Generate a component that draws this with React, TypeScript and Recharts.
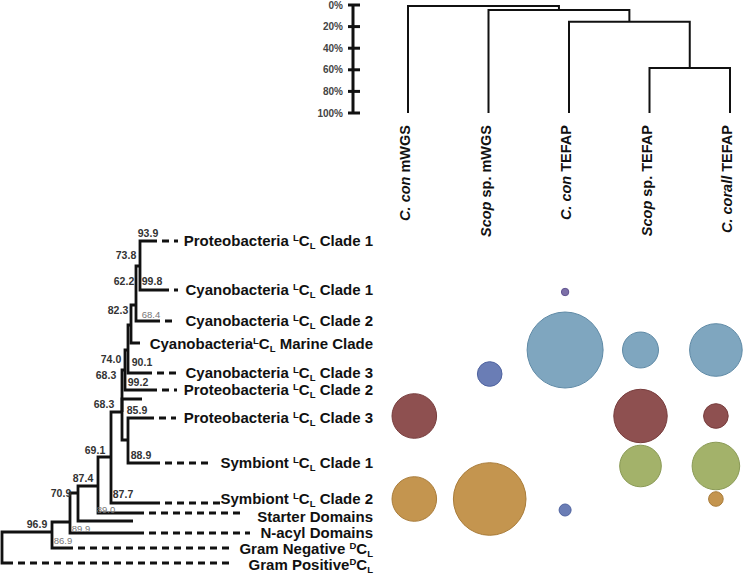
import React from 'react';
import { ScatterChart, Scatter, XAxis, YAxis, ZAxis } from 'recharts';

const W = 743;
const H = 574;
const FONT = '"Liberation Sans", Arial, Helvetica, sans-serif';

// samples: leaves of the top dendrogram and columns of the bubble grid
const sampleNames = [
  ['C. con', ' mWGS'],
  ['Scop', ' sp. mWGS'],
  ['C. con', ' TEFAP'],
  ['Scop', ' sp. TEFAP'],
  ['C. corall', ' TEFAP'],
];

// sample dendrogram merges: [left id, right id, distance %]; ids 5.. are the merges in order
const sampleMerges = [
  [3, 4, 58.3],
  [2, 5, 15.5],
  [1, 6, 4.6],
  [0, 7, 0.9],
];
const scaleTicks = [0, 20, 40, 60, 80, 100];

// phylogeny internal nodes: x = branch depth, y = row where the node hangs on its parent
const treeNodes = [
  { id: 'root', parent: '', x: 0.2, y: 54.5 },
  { id: 'n969', parent: 'root', x: 5.2, y: 53.2 },
  { id: 'n709', parent: 'n969', x: 7.0, y: 52.2 },
  { id: 'n874', parent: 'n709', x: 7.8, y: 49.3 },
  { id: 'n691', parent: 'n874', x: 9.8, y: 48.6 },
  { id: 'n683b', parent: 'n691', x: 11.1, y: 45.7 },
  { id: 'n122', parent: 'n683b', x: 12.2, y: 41.2 },
  { id: 'n859', parent: 'n122', x: 12.8, y: 44.0 },
  { id: 'n683a', parent: 'n122', x: 12.5, y: 37.0 },
  { id: 'n740', parent: 'n683a', x: 12.8, y: 35.0 },
  { id: 'n823', parent: 'n740', x: 13.1, y: 32.5 },
  { id: 'n622', parent: 'n823', x: 13.6, y: 30.5 },
  { id: 'n738', parent: 'n622', x: 14.0, y: 26.6 },
];

// phylogeny leaves: tip = end of solid branch, dashTo = end of dashed leader, ly = label row
const treeLeaves = [
  { parent: 'n738', tip: 15.0, y: 24.1, ly: 24.1, dashTo: 17.8, pre: 'Proteobacteria ', sup: 'L', post: ' Clade 1' },
  { parent: 'n738', tip: 16.2, y: 29.0, ly: 29.0, dashTo: 17.8, pre: 'Cyanobacteria ', sup: 'L', post: ' Clade 1' },
  { parent: 'n622', tip: 15.3, y: 32.1, ly: 32.1, dashTo: 17.7, pre: 'Cyanobacteria ', sup: 'L', post: ' Clade 2' },
  { parent: 'n823', tip: 14.0, y: 34.3, ly: 34.4, dashTo: 0, pre: 'Cyanobacteria', sup: 'L', post: ' Marine Clade' },
  { parent: 'n740', tip: 14.5, y: 37.3, ly: 37.3, dashTo: 17.8, pre: 'Cyanobacteria ', sup: 'L', post: ' Clade 3' },
  { parent: 'n683a', tip: 15.0, y: 39.0, ly: 39.0, dashTo: 17.7, pre: 'Proteobacteria ', sup: 'L', post: ' Clade 2' },
  { parent: 'n122', tip: 14.2, y: 39.9, ly: 39.9, dashTo: 0, pre: '', sup: '', post: '' },
  { parent: 'n859', tip: 14.7, y: 41.8, ly: 41.8, dashTo: 17.6, pre: 'Proteobacteria ', sup: 'L', post: ' Clade 3' },
  { parent: 'n859', tip: 15.3, y: 46.3, ly: 46.3, dashTo: 21.3, pre: 'Symbiont ', sup: 'L', post: ' Clade 1' },
  { parent: 'n683b', tip: 15.3, y: 50.3, ly: 49.9, dashTo: 22.2, pre: 'Symbiont ', sup: 'L', post: ' Clade 2' },
  { parent: 'n691', tip: 13.7, y: 51.3, ly: 51.7, dashTo: 24.0, pre: 'Starter Domains', sup: '', post: '' },
  { parent: 'n874', tip: 13.3, y: 52.1, ly: 52.1, dashTo: 0, pre: '', sup: '', post: '' },
  { parent: 'n709', tip: 13.7, y: 53.3, ly: 53.3, dashTo: 25.0, pre: 'N-acyl Domains', sup: '', post: '' },
  { parent: 'n969', tip: 6.6, y: 54.8, ly: 54.9, dashTo: 23.3, pre: 'Gram Negative ', sup: 'D', post: '' },
  { parent: 'root', tip: 0.6, y: 56.3, ly: 56.5, dashTo: 23.3, pre: 'Gram Positive', sup: 'D', post: '' },
];

// bootstrap support values and where they sit
const supportValues = [
  { x: 14.8, y: 23.3, v: '93.9', faint: false },
  { x: 12.6, y: 25.5, v: '73.8', faint: false },
  { x: 12.4, y: 28.1, v: '62.2', faint: false },
  { x: 15.2, y: 28.1, v: '99.8', faint: false },
  { x: 11.8, y: 31.0, v: '82.3', faint: false },
  { x: 15.1, y: 31.4, v: '68.4', faint: true },
  { x: 11.1, y: 35.9, v: '74.0', faint: false },
  { x: 14.2, y: 36.2, v: '90.1', faint: false },
  { x: 10.6, y: 37.5, v: '68.3', faint: false },
  { x: 13.8, y: 38.2, v: '99.2', faint: false },
  { x: 10.4, y: 40.4, v: '68.3', faint: false },
  { x: 13.7, y: 41.0, v: '85.9', faint: false },
  { x: 14.1, y: 45.5, v: '88.9', faint: false },
  { x: 9.5, y: 45.0, v: '69.1', faint: false },
  { x: 8.3, y: 47.8, v: '87.4', faint: false },
  { x: 12.3, y: 49.4, v: '87.7', faint: false },
  { x: 6.1, y: 49.3, v: '70.9', faint: false },
  { x: 10.6, y: 50.9, v: '89.0', faint: true },
  { x: 3.7, y: 52.4, v: '96.9', faint: false },
  { x: 8.1, y: 52.8, v: '89.9', faint: true },
  { x: 6.3, y: 54.0, v: '86.9', faint: true },
];

// bubble grid: one row per gene clade, values = relative abundance per sample
const bubbleRowNames = ['Cyano 1', 'Cyano marine', 'Cyano 3', 'Proteo 3', 'Symbiont 1', 'Symbiont 2', 'Starter'];
const bubbleRowY = [29.2, 35.0, 37.4, 41.6, 46.6, 49.9, 51.0];
const bubbleValues = [
  [0, 0, 0.95, 0, 0],
  [0, 0, 100, 22.4, 47.9],
  [0, 10.5, 0, 0, 0],
  [34.4, 0, 0, 49.4, 10.5],
  [0, 0, 0, 30, 39.2],
  [34.4, 91.3, 0, 0, 3.7],
  [0, 0, 2.5, 0, 0],
];
const bubbleFill = ['#7d70a8', '#7fa6bf', '#6a7db5', '#8e5050', '#a3b26a', '#c4954f', '#6a7db5'];
const bubbleEdge = ['#605391', '#5f8aa6', '#4f63a0', '#773c3c', '#8a9a55', '#a97c3a', '#4f63a0'];

// layout of the overlay axes
const COL0 = 414.3;
const COL_STEP = 75.4;
const DEN0 = 408;
const DEN_STEP = 80.5;
const AXIS_X = 353;

const nodeById: Record<string, any> = {};
treeNodes.forEach((n) => (nodeById[n.id] = n));

const branchPaths = [
  ...treeNodes
    .filter((n) => n.parent)
    .map((n) => {
      const p = nodeById[n.parent];
      return [{ x: p.x, y: p.y }, { x: p.x, y: n.y }, { x: n.x, y: n.y }];
    }),
  ...treeLeaves.map((l) => {
    const p = nodeById[l.parent];
    return [{ x: p.x, y: p.y }, { x: p.x, y: l.y }, { x: l.tip, y: l.y }];
  }),
];
const dashPaths = treeLeaves.filter((l) => l.dashTo > 0).map((l) => [{ x: l.tip, y: l.y }, { x: l.dashTo, y: l.y }]);
const leafLabels = treeLeaves.filter((l) => l.pre).map((l) => ({ ...l, x: 37.3, y: l.ly }));

// sample dendrogram as polylines
const mergePos: number[] = [0, 1, 2, 3, 4];
const mergeH: number[] = [100, 100, 100, 100, 100];
const dendroPaths = sampleMerges.map(([a, b, h]) => {
  const path = [
    { x: mergePos[a], h: mergeH[a] },
    { x: mergePos[a], h },
    { x: mergePos[b], h },
    { x: mergePos[b], h: mergeH[b] },
  ];
  mergePos.push((mergePos[a] + mergePos[b]) / 2);
  mergeH.push(h);
  return path;
});

const EmptyDot = () => <g />;

const TreeLabel = (props: any) => {
  const { cx, cy, payload } = props;
  return (
    <text x={cx} y={cy + 5} textAnchor="end" fontFamily={FONT} fontWeight="bold" fontSize={15} fill="#111">
      {payload.pre}
      {payload.sup ? (
        <>
          <tspan fontSize={9.5} dy={-5}>{payload.sup}</tspan>
          <tspan dy={5}>C</tspan>
          <tspan fontSize={9.5} dy={3}>L</tspan>
          <tspan dy={-3}>{payload.post}</tspan>
        </>
      ) : null}
    </text>
  );
};

const SupportLabel = (props: any) => {
  const { cx, cy, payload } = props;
  return (
    <text
      x={cx}
      y={cy + 3.5}
      textAnchor="middle"
      fontFamily={FONT}
      fontWeight={payload.faint ? 'normal' : 'bold'}
      fontSize={payload.faint ? 9.5 : 10.5}
      fill={payload.faint ? '#777' : '#333'}
    >
      {payload.v}
    </text>
  );
};

const makeBubble = (fill: string, stroke: string) => (props: any) => {
  const r = props.size ? Math.sqrt(props.size / Math.PI) : props.width / 2;
  return <circle cx={props.cx} cy={props.cy} r={r} fill={fill} stroke={stroke} strokeWidth={1} />;
};

const ColumnTick = (props: any) => {
  const { x, payload } = props;
  const [it, rest] = sampleNames[Math.round(payload.value)];
  const bx = x + 2;
  const by = 125;
  return (
    <text x={bx} y={by} transform={`rotate(-90 ${bx} ${by})`} textAnchor="end" fontFamily={FONT} fontWeight="bold" fontSize={14.5} fill="#111">
      <tspan fontStyle="italic">{it}</tspan>
      {rest}
    </text>
  );
};

const ScaleTick = (props: any) => {
  const { y, payload } = props;
  return (
    <g>
      <line x1={AXIS_X - 5} x2={AXIS_X + 7} y1={y} y2={y} stroke="#111" strokeWidth={3} />
      <text x={AXIS_X - 10} y={y + 3.5} textAnchor="end" fontFamily={FONT} fontWeight="bold" fontSize={10} fill="#444">
        {payload.value}%
      </text>
    </g>
  );
};

const treeLine = { stroke: '#111', strokeWidth: 2.8, fill: 'none' };
const dashLine = { stroke: '#111', strokeWidth: 2.8, fill: 'none', strokeDasharray: '7 5' };

export default function App() {
  return (
    <div style={{ position: 'absolute', left: 0, top: 0, width: W, height: H, background: '#fff' }}>
      <div style={{ position: 'absolute', left: 0, top: 0 }}>
        <ScatterChart width={W} height={H} margin={{ top: 0, right: 0, bottom: 0, left: 0 }}>
          <XAxis xAxisId="tree" type="number" dataKey="x" domain={[0, 74.3]} hide allowDataOverflow />
          <XAxis
            xAxisId="col"
            type="number"
            dataKey="col"
            domain={[-COL0 / COL_STEP, (W - COL0) / COL_STEP]}
            hide
            allowDataOverflow
          />
          <YAxis yAxisId="row" type="number" dataKey="y" domain={[0, 57.4]} reversed hide allowDataOverflow />
          <ZAxis type="number" range={[10, 10]} />
          <ZAxis zAxisId="abund" type="number" dataKey="z" domain={[0, 100]} range={[0, Math.PI * 38 * 38]} />

          {branchPaths.map((pts, i) => (
            <Scatter
              key={`b${i}`}
              xAxisId="tree"
              yAxisId="row"
              data={pts}
              line={treeLine}
              lineType="joint"
              shape={EmptyDot}
              isAnimationActive={false}
            />
          ))}
          {dashPaths.map((pts, i) => (
            <Scatter
              key={`d${i}`}
              xAxisId="tree"
              yAxisId="row"
              data={pts}
              line={dashLine}
              lineType="joint"
              shape={EmptyDot}
              isAnimationActive={false}
            />
          ))}
          <Scatter xAxisId="tree" yAxisId="row" data={leafLabels} shape={TreeLabel} isAnimationActive={false} />
          <Scatter xAxisId="tree" yAxisId="row" data={supportValues} shape={SupportLabel} isAnimationActive={false} />

          {bubbleRowNames.map((name, r) => (
            <Scatter
              key={name}
              name={name}
              xAxisId="col"
              yAxisId="row"
              zAxisId="abund"
              data={bubbleValues[r]
                .map((z, col) => ({ col, y: bubbleRowY[r], z }))
                .filter((d) => d.z > 0)}
              shape={makeBubble(bubbleFill[r], bubbleEdge[r])}
              isAnimationActive={false}
            />
          ))}
        </ScatterChart>
      </div>

      <div style={{ position: 'absolute', left: 0, top: 0 }}>
        <ScatterChart width={W} height={240} margin={{ top: 5, right: 0, bottom: 0, left: 0 }}>
          <XAxis
            type="number"
            dataKey="x"
            domain={[-(DEN0 - AXIS_X) / DEN_STEP, (W - DEN0) / DEN_STEP]}
            ticks={[0, 1, 2, 3, 4]}
            interval={0}
            allowDataOverflow
            height={127}
            axisLine={false}
            tickLine={false}
            tick={ColumnTick}
          />
          <YAxis
            type="number"
            dataKey="h"
            domain={[0, 100]}
            reversed
            ticks={scaleTicks}
            interval={0}
            width={AXIS_X}
            axisLine={{ stroke: '#111', strokeWidth: 3 }}
            tickLine={false}
            tick={ScaleTick}
          />
          {dendroPaths.map((pts, i) => (
            <Scatter
              key={`m${i}`}
              data={pts}
              line={{ stroke: '#111', strokeWidth: 2, fill: 'none' }}
              lineType="joint"
              shape={EmptyDot}
              isAnimationActive={false}
            />
          ))}
        </ScatterChart>
      </div>
    </div>
  );
}
